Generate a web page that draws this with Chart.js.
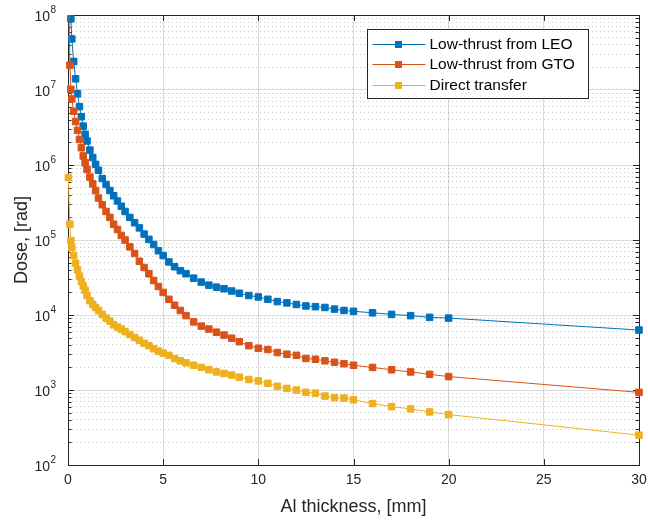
<!DOCTYPE html>
<html>
<head>
<meta charset="utf-8">
<script src="https://cdn.jsdelivr.net/npm/chart.js@4.4.0/dist/chart.umd.min.js"></script>
<style>
  html, body { margin: 0; padding: 0; background: #fff; }
  #wrap { width: 648px; height: 520px; }
</style>
</head>
<body>
<div id="wrap"><canvas id="doseChart" width="648" height="520"></canvas></div>
<script>
// Al thickness grid, mm (shared by all three curves)
const thickness = [0.02, 0.1, 0.15, 0.2, 0.3, 0.4, 0.5, 0.6, 0.7, 0.8, 0.9, 1.0,
  1.15, 1.3, 1.45, 1.6, 1.8, 2.0, 2.2, 2.4, 2.6, 2.8, 3.0,
  3.25, 3.5, 3.75, 4.0, 4.25, 4.5, 4.75, 5.0, 5.3, 5.6, 5.9, 6.2, 6.6,
  7.0, 7.4, 7.8, 8.2, 8.6, 9.0, 9.5, 10, 10.5, 11, 11.5, 12, 12.5, 13, 13.5, 14, 14.5, 15,
  16, 17, 18, 19, 20, 30];

// Dose, rad
const doseLEO = [3.2e9, 2.0e8, 8.9e7, 4.8e7, 2.4e7, 1.41e7, 8.9e6, 6.0e6, 4.4e6, 3.3e6, 2.57e6, 2.09e6,
  1.58e6, 1.26e6, 1.02e6, 8.5e5, 6.6e5, 5.5e5, 4.57e5, 3.89e5, 3.31e5, 2.82e5, 2.4e5,
  2.0e5, 1.7e5, 1.45e5, 1.2e5, 1.02e5, 8.7e4, 7.2e4, 6.2e4, 5.1e4, 4.4e4, 3.9e4, 3.55e4, 3.1e4,
  2.75e4, 2.5e4, 2.35e4, 2.24e4, 2.09e4, 1.95e4, 1.82e4, 1.74e4, 1.62e4, 1.51e4, 1.45e4, 1.38e4, 1.32e4, 1.29e4, 1.26e4, 1.2e4, 1.15e4, 1.12e4,
  1.07e4, 1.02e4, 9.8e3, 9.3e3, 9.1e3, 6.3e3];

const doseGTO = [3.2e8, 2.14e7, 1.02e7, 7.6e6, 5.2e6, 3.8e6, 2.9e6, 2.19e6, 1.7e6, 1.32e6, 1.07e6, 8.7e5,
  6.9e5, 5.6e5, 4.57e5, 3.63e5, 2.95e5, 2.4e5, 2.0e5, 1.62e5, 1.38e5, 1.15e5, 1.0e5,
  8.1e4, 6.6e4, 5.2e4, 4.3e4, 3.55e4, 2.88e4, 2.4e4, 2.0e4, 1.62e4, 1.35e4, 1.15e4, 9.8e3, 8.1e3,
  7.1e3, 6.5e3, 5.9e3, 5.4e3, 4.9e3, 4.4e3, 3.9e3, 3.6e3, 3.47e3, 3.16e3, 3.0e3, 2.9e3, 2.63e3, 2.57e3, 2.45e3, 2.34e3, 2.24e3, 2.14e3,
  2.0e3, 1.86e3, 1.74e3, 1.62e3, 1.51e3, 930];

const doseDirect = [6.8e5, 1.62e5, 9.8e4, 7.9e4, 6.2e4, 4.9e4, 4.0e4, 3.3e4, 2.8e4, 2.45e4, 2.14e4, 1.82e4,
  1.55e4, 1.38e4, 1.26e4, 1.15e4, 1.02e4, 9.1e3, 8.3e3, 7.4e3, 6.9e3, 6.5e3, 6.0e3,
  5.5e3, 5.0e3, 4.6e3, 4.2e3, 3.9e3, 3.55e3, 3.3e3, 3.1e3, 2.9e3, 2.63e3, 2.45e3, 2.3e3, 2.14e3,
  2.0e3, 1.86e3, 1.74e3, 1.66e3, 1.58e3, 1.48e3, 1.38e3, 1.32e3, 1.23e3, 1.12e3, 1.05e3, 1.0e3, 930, 910, 830, 790, 780, 740,
  660, 600, 560, 510, 470, 250];

const seriesNames = ['Low-thrust from LEO', 'Low-thrust from GTO', 'Direct transfer'];
const seriesColors = ['#0072BD', '#D95319', '#EDB120'];

const xTicks = [0, 5, 10, 15, 20, 25, 30];
const yDecades = [1e2, 1e3, 1e4, 1e5, 1e6, 1e7, 1e8];
const yExponents = ['2', '3', '4', '5', '6', '7', '8'];
const yMinorSteps = [1, 2, 3, 4, 5, 6, 7, 8, 9];

const FONT = "'Liberation Sans', Arial, Helvetica, sans-serif";
const AXIS_COLOR = '#262626';

function series(ys) {
  return thickness.map((x, i) => ({ x: x, y: ys[i] }));
}

// MATLAB-like box with inward ticks
const matlabAxes = {
  id: 'matlabAxes',
  beforeDatasetsDraw(chart) {
    const { ctx, chartArea: a, scales: { x, y } } = chart;
    ctx.save();
    ctx.strokeStyle = AXIS_COLOR;
    ctx.lineWidth = 1;
    ctx.beginPath();
    x.ticks.forEach(t => {
      const px = Math.round(x.getPixelForValue(t.value)) + 0.5;
      ctx.moveTo(px, a.bottom); ctx.lineTo(px, a.bottom - 6);
      ctx.moveTo(px, a.top); ctx.lineTo(px, a.top + 6);
    });
    y.ticks.forEach(t => {
      const py = Math.round(y.getPixelForValue(t.value)) + 0.5;
      const len = t.major ? 6 : 3.5;
      ctx.moveTo(a.left, py); ctx.lineTo(a.left + len, py);
      ctx.moveTo(a.right, py); ctx.lineTo(a.right - len, py);
    });
    ctx.stroke();
    ctx.strokeRect(Math.round(a.left) + 0.5, Math.round(a.top) + 0.5,
      Math.round(a.right - a.left), Math.round(a.bottom - a.top));

    // decade labels 10^n with a raised exponent
    ctx.fillStyle = AXIS_COLOR;
    ctx.textBaseline = 'middle';
    yDecades.forEach((d, i) => {
      const py = y.getPixelForValue(d);
      const xr = a.left - 18;
      ctx.font = '14px ' + FONT;
      ctx.textAlign = 'right';
      ctx.fillText('10', xr, py + 2);
      ctx.font = '10px ' + FONT;
      ctx.textAlign = 'left';
      ctx.fillText(yExponents[i], xr + 0.5, py - 5);
    });
    ctx.restore();
  }
};

// legend box inside the axes, top right
const boxLegend = {
  id: 'boxLegend',
  afterDraw(chart) {
    const { ctx, chartArea: a } = chart;
    const left = Math.round(a.right - 272) + 0.5;
    const top = Math.round(a.top + 14) + 0.5;
    const w = 221, h = 69;
    ctx.save();
    ctx.fillStyle = '#fff';
    ctx.fillRect(left, top, w, h);
    ctx.strokeStyle = AXIS_COLOR;
    ctx.lineWidth = 1;
    ctx.strokeRect(left, top, w, h);
    ctx.font = '15.5px ' + FONT;
    ctx.textBaseline = 'middle';
    chart.data.datasets.forEach((ds, i) => {
      const cy = Math.round(top + 14 + i * 20.5);
      ctx.strokeStyle = ds.borderColor;
      ctx.beginPath();
      ctx.moveTo(left + 5, cy + 0.5);
      ctx.lineTo(left + 58, cy + 0.5);
      ctx.stroke();
      ctx.fillStyle = ds.borderColor;
      ctx.fillRect(left + 27.5, cy - 3, 7, 7);
      ctx.fillStyle = '#000';
      ctx.fillText(ds.label, left + 62, cy + 1);
    });
    ctx.restore();
  }
};

function makeDataset(i, ys) {
  return {
    label: seriesNames[i],
    data: series(ys),
    borderColor: seriesColors[i],
    backgroundColor: seriesColors[i],
    borderWidth: 1,
    pointStyle: 'rect',
    pointRadius: 4.6,
    pointBorderWidth: 1,
    pointBackgroundColor: seriesColors[i],
    pointBorderColor: seriesColors[i],
    tension: 0,
    order: 3 - i,
    clip: { left: 10, right: 10, top: 0, bottom: 10 }
  };
}

new Chart(document.getElementById('doseChart'), {
  type: 'line',
  data: {
    datasets: [
      makeDataset(0, doseLEO),
      makeDataset(1, doseGTO),
      makeDataset(2, doseDirect)
    ]
  },
  options: {
    responsive: false,
    animation: false,
    parsing: false,
    layout: { padding: { left: 0, top: 15, right: 9, bottom: 0 } },
    plugins: {
      legend: { display: false },
      tooltip: { enabled: false }
    },
    scales: {
      x: {
        type: 'linear',
        min: 0,
        max: 30,
        afterBuildTicks: scale => { scale.ticks = xTicks.map(v => ({ value: v })); },
        afterFit: scale => {
          scale.height = 55;
          scale.paddingLeft = 0;
          scale.paddingRight = 0;
        },
        ticks: {
          autoSkip: false,
          maxRotation: 0,
          padding: 7,
          color: AXIS_COLOR,
          font: { family: FONT, size: 14 }
        },
        grid: {
          color: 'rgba(0,0,0,0.14)',
          lineWidth: 1,
          drawTicks: false
        },
        border: { display: false },
        title: {
          display: true,
          text: 'Al thickness, [mm]',
          color: AXIS_COLOR,
          font: { family: FONT, size: 18 },
          padding: { top: 0, bottom: 2 }
        }
      },
      y: {
        type: 'logarithmic',
        min: 1e2,
        max: 1e8,
        afterBuildTicks: scale => {
          const t = [];
          yDecades.forEach(d => {
            yMinorSteps.forEach(m => {
              const v = d * m;
              if (v <= 1e8 * 1.0001) t.push({ value: v, major: m === 1 });
            });
          });
          scale.ticks = t;
        },
        afterFit: scale => {
          scale.width = 68;
          scale.paddingTop = 0;
          scale.paddingBottom = 0;
        },
        ticks: { display: false, autoSkip: false },
        grid: {
          drawTicks: false,
          lineWidth: 1,
          color: ctx => (ctx.tick && ctx.tick.major) ? 'rgba(0,0,0,0.14)' : 'rgba(0,0,0,0.22)'
        },
        border: {
          display: false,
          dash: ctx => (ctx.tick && ctx.tick.major) ? [] : [1, 3]
        },
        title: {
          display: true,
          text: 'Dose, [rad]',
          color: AXIS_COLOR,
          font: { family: FONT, size: 18 },
          padding: { top: 11, bottom: 0 }
        }
      }
    }
  },
  plugins: [matlabAxes, boxLegend]
});
</script>
</body>
</html>
